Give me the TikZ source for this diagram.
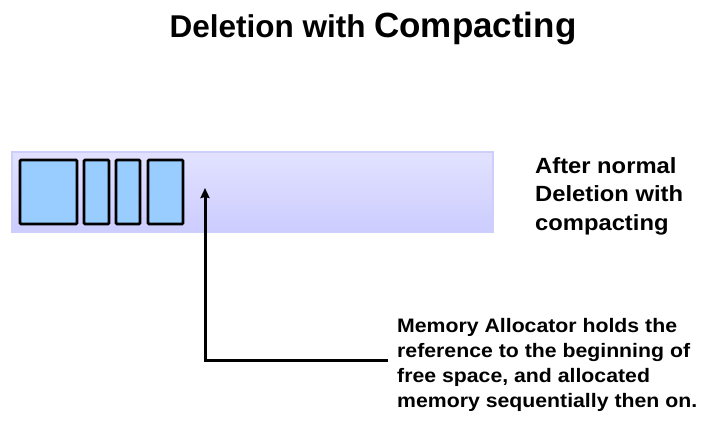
\documentclass[tikz,border=0pt]{standalone}
\usepackage{fontspec}
\setmainfont{Liberation Sans}
\newfontfamily\notefont{Liberation Sans}[FakeStretch=1.09]
\newfontfamily\afterfont{Liberation Sans}[FakeStretch=1.08]
\usetikzlibrary{arrows.meta}
\definecolor{bartop}{RGB}{226,226,255}
\definecolor{barbot}{RGB}{204,204,255}
\definecolor{barline}{RGB}{206,206,250}
\definecolor{blockfill}{RGB}{153,204,255}
\tikzset{
  block/.style={draw=black, line width=2.8pt, fill=blockfill, rounded corners=1pt, inner sep=0pt},
  lbl/.style={align=left, inner sep=0pt, anchor=north west},
  conn/.style={line width=3pt, -{Stealth[length=10pt,width=9pt,inset=1pt]}},
}
\begin{document}
\begin{tikzpicture}[x=1pt,y=-1pt]
\useasboundingbox (0,0) rectangle (708,432);
\node[font=\bfseries\fontsize{31.5}{36}\selectfont, anchor=base] (title) at (373,37.5) {Deletion with {\fontsize{35}{40}\selectfont Compacting}};
\shade[top color=bartop, bottom color=barbot, draw=barline, line width=2.5pt] (12,152) rectangle (493,232);
\draw[block] (20,160) rectangle (77,224);
\draw[block] (84,160) rectangle (109,224);
\draw[block] (116,160) rectangle (140,224);
\draw[block] (148,160) rectangle (183,224);
\coordinate (tip) at (205,188);
\coordinate (corner) at (205,360);
\coordinate (tail) at (388,360);
\draw[conn] (tail) -- (corner) -- (tip);
\node[lbl, font=\notefont\bfseries\fontsize{19.5}{25}\selectfont] (note) at (397,318) {Memory Allocator holds the\\reference to the beginning of\\free space, and allocated\\memory sequentially then on.};
\node[lbl, font=\afterfont\bfseries\fontsize{22}{28.5}\selectfont] (after) at (535,157) {After normal\\Deletion with\\compacting};
\end{tikzpicture}
\end{document}
